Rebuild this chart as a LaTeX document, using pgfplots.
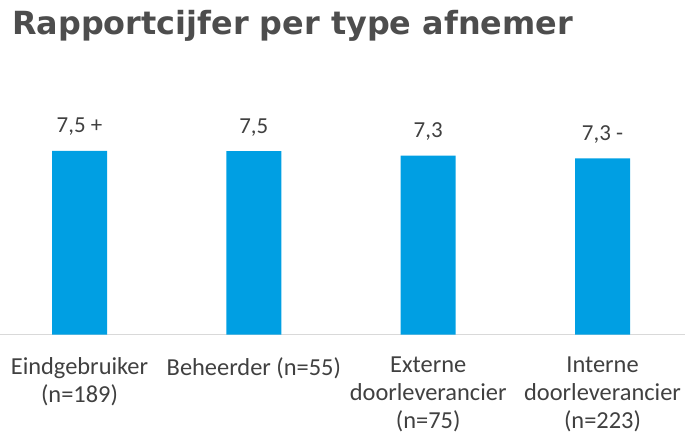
\documentclass[border=0pt]{standalone}
\usepackage{fontspec}
\setmainfont{Carlito}
\newfontfamily\titlefont{DejaVu Sans}
\usepackage{pgfplots}
\pgfplotsset{compat=1.18}
\definecolor{barblue}{HTML}{009FE3}
\definecolor{txt}{HTML}{404040}
\definecolor{ttl}{HTML}{4D4D4D}
\definecolor{axln}{HTML}{D9D9D9}
\begin{document}
\begin{tikzpicture}[x=1bp,y=1bp]
\path[use as bounding box] (0,0) rectangle (685,438);
\node[anchor=base west, inner sep=0pt, text=ttl] at (12,403)
  {\titlefont\bfseries\fontsize{32}{36}\selectfont Rapportcijfer per type afnemer};
\begin{axis}[
    at={(0bp,103.3bp)}, anchor=south west,
    scale only axis,
    width=685bp, height=234.7bp,
    ybar, bar width=55bp,
    xmin=-0.456, xmax=3.473,
    ymin=0, ymax=9.58,
    axis y line=none,
    axis x line=bottom,
    x axis line style={-, draw=axln, line width=1.5bp},
    xtick=data,
    xticklabels={{Eindgebruiker\\(n=189)},{Beheerder (n=55)},{Externe\\doorleverancier\\(n=75)},{Interne\\doorleverancier\\(n=223)}},
    major tick length=0pt,
    x tick label style={align=center, anchor=north, text=txt, yshift=-19bp,
        font=\fontsize{24.5}{28}\selectfont},
    nodes near coords,
    point meta=explicit symbolic,
    every node near coord/.append style={anchor=base, yshift=18bp, text=txt,
        font=\fontsize{23}{28}\selectfont},
]
\addplot[fill=barblue, draw=none] coordinates {
    (0,7.5) [7,5 +]
    (1,7.49) [7,5]
    (2,7.31) [7,3]
    (3,7.2) [7,3 -]
};
\end{axis}
\end{tikzpicture}
\end{document}
